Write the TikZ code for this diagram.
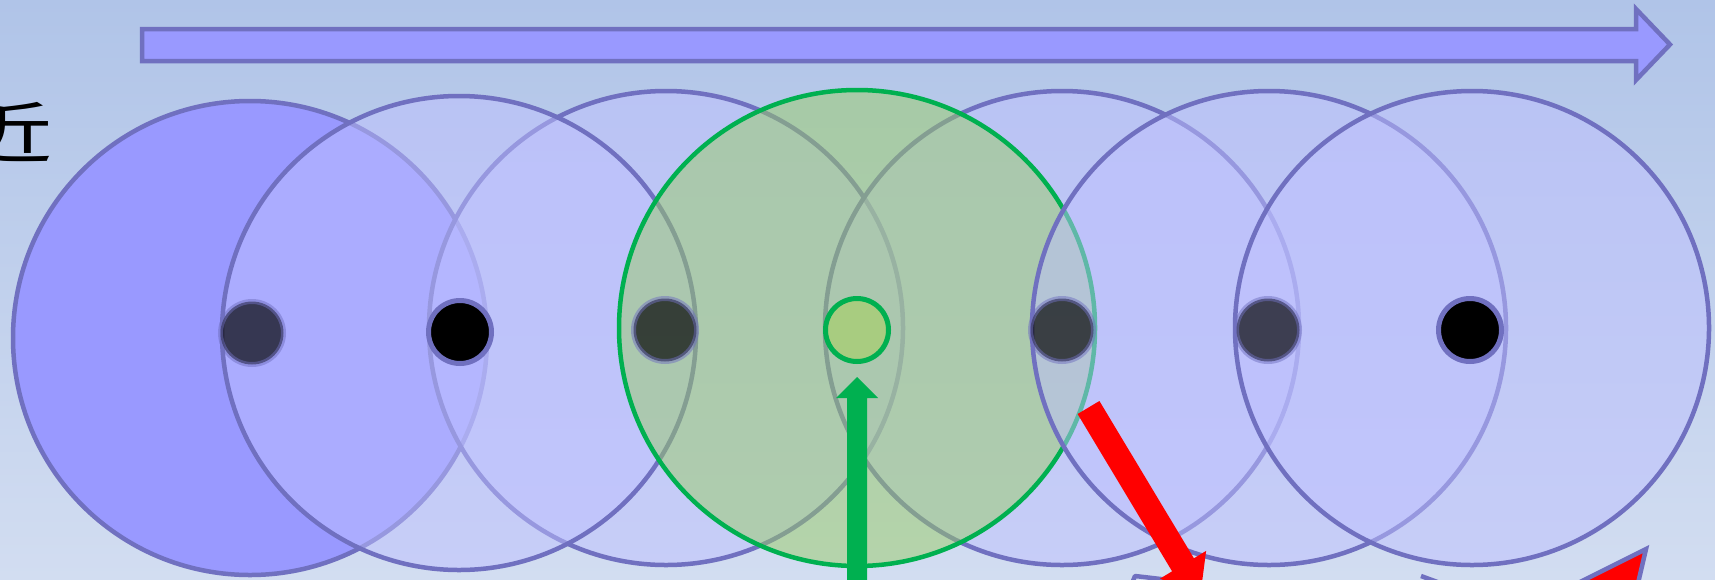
\documentclass[tikz,border=0pt]{standalone}
\usepackage{fontspec}
\newfontfamily\cjk{Noto Sans CJK JP}
\definecolor{bgtop}{RGB}{176,196,232}
\definecolor{bgbot}{RGB}{210,221,241}
\definecolor{cstroke}{RGB}{112,112,192}
\definecolor{cfill}{RGB}{190,192,255}
\definecolor{cstrong}{RGB}{153,153,255}
\definecolor{gfill}{RGB}{153,204,102}
\definecolor{gline}{RGB}{0,176,80}
\definecolor{gdot}{RGB}{168,204,128}
\begin{document}
\begin{tikzpicture}[x=1pt,y=-1pt,
  ring/.style={circle,inner sep=0pt,outer sep=0pt,minimum size=474pt,draw=cstroke,line width=4.5pt,fill=cfill,fill opacity=0.5,draw opacity=1},
  solidring/.style={ring,fill=cstrong,fill opacity=1},
  greenring/.style={ring,draw=gline,fill=gfill,minimum size=476pt},
  dot/.style={circle,inner sep=0pt,outer sep=0pt,minimum size=63pt,line width=5pt,draw=cstroke,fill=black},
  fadedot/.style={dot,fill opacity=0.68,draw opacity=0.5},
  greendot/.style={dot,draw=gline,fill=gdot},
  blockarrow/.style={fill=cstrong,draw=cstroke,line width=4.5pt,line join=miter},
  bits/.style={draw=cstroke,line width=4.5pt,line join=round},
  redtip/.style={fill=red,draw=cstroke,line width=4.5pt,line join=miter}
]
\useasboundingbox (0,0) rectangle (1715,579);
\shade[top color=bgtop,bottom color=bgbot] (0,0) rectangle (1715,579);

% partly cut-off text
\node[anchor=base west,inner sep=0pt,font=\cjk\fontsize{66}{66}\selectfont] (t) at (-40,157) {\scalebox{1.4}[1]{近}};

% top arrow
\draw[blockarrow] (142,29) -- (1636,29) -- (1636,9) -- (1670,44.5) -- (1636,80) -- (1636,61) -- (142,61) -- cycle;

% circles
\node[solidring] (c1) at (250,338) {};
\node[ring] (c3) at (666,328) {};
\node[ring] (c2) at (459,333) {};
\node[ring] (c5) at (1062,328) {};
\node[greenring] (cg) at (857,328) {};
\node[ring] (c6) at (1269,328) {};
\node[ring] (c7) at (1472,328) {};

% dots
\node[fadedot] (d1) at (252,333) {};
\node[dot] (d2) at (460,332) {};
\node[fadedot] (d3) at (665,330) {};
\node[greendot] (dg) at (857,330) {};
\node[fadedot] (d5) at (1062,330) {};
\node[fadedot] (d6) at (1268,330) {};
\node[dot] (d7) at (1470,330) {};

% shapes cut off at the bottom edge
\draw[bits] (1125,600) -- (1135,576) -- (1195,583);
\draw[bits] (1421,576) -- (1470,594);
\draw[redtip] (1646,549) -- (1546,599) -- (1632,609) -- cycle;

% green arrow
\fill[gline] (847,620) -- (847,398) -- (836,398) -- (857,377) -- (878,398) -- (867,398) -- (867,620) -- cycle;

% red arrow
\fill[red] (1099.4,401) -- (1193.9,558.3) -- (1206.1,550.9) -- (1200.5,593.9) -- (1159.9,578.7) -- (1172.1,571.3) -- (1077.6,414) -- cycle;
\end{tikzpicture}
\end{document}
